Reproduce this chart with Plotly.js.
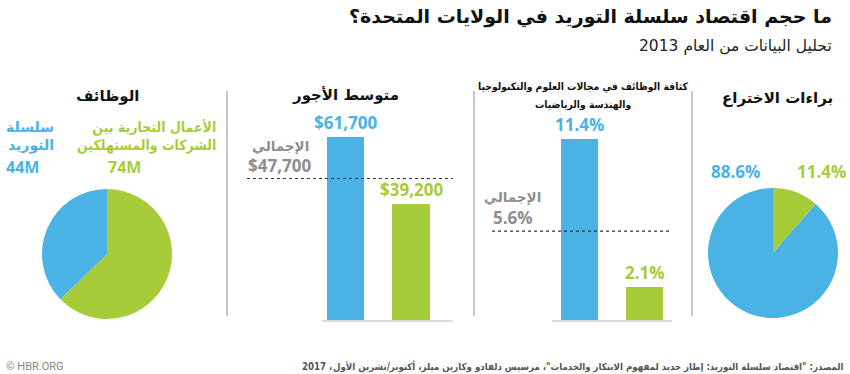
<!DOCTYPE html>
<html><head><meta charset="utf-8">
<script src="https://cdn.plot.ly/plotly-3.0.1.min.js"></script>
<style>html,body{margin:0;padding:0;background:#fff;}#chart{width:850px;height:374px;}</style>
</head><body><div id="chart"></div>
<script>
// ---- data ----
const jobsLabels = ['الأعمال التجارية بين الشركات والمستهلكين', 'سلسلة التوريد'];
const jobsValues = [74, 44];
const wageCats = ['سلسلة التوريد', 'الأعمال التجارية'];
const wageValues = [61700, 39200];
const wageTotal = 47700;
const stemCats = ['سلسلة التوريد', 'الأعمال التجارية'];
const stemValues = [11.4, 2.1];
const stemTotal = 5.6;
const patentLabels = ['الأعمال التجارية', 'سلسلة التوريد'];
const patentValues = [11.4, 88.6];
const totalLabel = 'الإجمالي';
const sourceText = 'المصدر: "اقتصاد سلسلة التوريد: إطار جديد لمفهوم الابتكار والخدمات"، مرسيس دلفادو وكارين ميلز، أكتوبر/تشرين الأول';
const sourceYear = '2017';

const W = 850, H = 374;
const BLUE = '#4bb2e6', GREEN = '#a7cc3a', GRAY = '#8e8e8e';
const AR = 'DejaVu Sans, sans-serif';
const ARC = 'DejaVu Sans Condensed, DejaVu Sans, sans-serif';
const NUM = 'Open Sans, sans-serif';
const px = x => x / W;
const py = y => 1 - y / H;

const traces = [
  { type: 'pie', values: jobsValues, labels: jobsLabels, sort: false, direction: 'clockwise', rotation: 0,
    marker: { colors: [GREEN, BLUE], line: { width: 0 } }, textinfo: 'none', hoverinfo: 'skip',
    domain: { x: [px(42), px(172)], y: [py(319), py(189)] }, showlegend: false },
  { type: 'bar', x: [0, 1], y: wageValues, width: 0.57, marker: { color: [BLUE, GREEN] },
    xaxis: 'x', yaxis: 'y', hoverinfo: 'skip', showlegend: false },
  { type: 'bar', x: [0, 1], y: stemValues, width: 0.57, marker: { color: [BLUE, GREEN] },
    xaxis: 'x2', yaxis: 'y2', hoverinfo: 'skip', showlegend: false },
  { type: 'pie', values: patentValues, labels: patentLabels, sort: false, direction: 'clockwise', rotation: 0,
    marker: { colors: [GREEN, BLUE], line: { width: 0 } }, textinfo: 'none', hoverinfo: 'skip',
    domain: { x: [px(708), px(838)], y: [py(318), py(188)] }, showlegend: false }
];

const hidden = { showgrid: false, zeroline: false, showticklabels: false, ticks: '', fixedrange: true };
const fmtMoney = v => '$' + v.toLocaleString('en-US');
const fmtPct = v => v.toFixed(1) + '%';

function ann(text, x, y, size, color, xanchor, opts) {
  return Object.assign({ text: text, x: px(x), y: py(y), xref: 'paper', yref: 'paper', xanchor: xanchor || 'center',
    yanchor: 'middle', showarrow: false, font: { family: AR, size: size, color: color } }, opts || {});
}

// measure footer text width so the year can sit to its left
const srcSize = 9.6;
const cv = document.createElement('canvas').getContext('2d');
cv.font = 'bold ' + srcSize + 'px "DejaVu Sans Condensed", "DejaVu Sans", sans-serif';
const srcWidth = cv.measureText(sourceText).width;

const annotations = [
  // title
  ann('<b>ما حجم اقتصاد سلسلة التوريد في الولايات المتحدة؟</b>', 834, 17, 19, '#111', 'right'),
  ann('تحليل البيانات من العام 2013', 834, 46, 15.5, '#222', 'right'),
  // panel titles
  ann('<b>الوظائف</b>', 108, 96, 15, '#111'),
  ann('<b>متوسط الأجور</b>', 345, 95, 15, '#111'),
  ann('<b>كثافة الوظائف في مجالات العلوم والتكنولوجيا</b>', 583, 86, 10.3, '#111', 'center',
    { font: { family: ARC, size: 10.3, color: '#111' } }),
  ann('<b>والهندسة والرياضيات</b>', 583, 104, 10.3, '#111', 'center',
    { font: { family: ARC, size: 10.3, color: '#111' } }),
  ann('<b>براءات الاختراع</b>', 777, 98, 15, '#111'),
  // pie 1 labels
  ann('<b>' + jobsLabels[1].split(' ')[0] + '<br>' + jobsLabels[1].split(' ')[1] + '</b>', 56, 136, 14, BLUE, 'right', { align: 'right' }),
  ann('<b>' + jobsValues[1] + 'M</b>', 4, 167, 16, BLUE, 'left', { font: { family: NUM, size: 16, color: BLUE } }),
  ann('<b>الأعمال التجارية بين<br>الشركات والمستهلكين</b>', 218, 136, 14, GREEN, 'right',
    { align: 'right', font: { family: ARC, size: 14, color: GREEN } }),
  ann('<b>' + jobsValues[0] + 'M</b>', 124, 167, 16, GREEN, 'center', { font: { family: NUM, size: 16, color: GREEN } }),
  // wages labels
  { text: '<b>' + fmtMoney(wageValues[0]) + '</b>', x: 0, y: wageValues[0], xref: 'x', yref: 'y', yanchor: 'bottom', yshift: 1,
    showarrow: false, font: { family: NUM, size: 17, color: BLUE } },
  { text: '<b>' + fmtMoney(wageValues[1]) + '</b>', x: 1, y: wageValues[1], xref: 'x', yref: 'y', yanchor: 'bottom', yshift: 1,
    showarrow: false, font: { family: NUM, size: 17, color: GREEN } },
  ann('<b>' + totalLabel + '</b>', 311, 146, 13.5, GRAY, 'right'),
  { text: '<b>' + fmtMoney(wageTotal) + '</b>', x: px(246), y: wageTotal, xref: 'paper', yref: 'y', xanchor: 'left', yanchor: 'bottom', yshift: 0,
    showarrow: false, font: { family: NUM, size: 17, color: GRAY } },
  // stem labels
  { text: '<b>' + fmtPct(stemValues[0]) + '</b>', x: 0, y: stemValues[0], xref: 'x2', yref: 'y2', yanchor: 'bottom', yshift: 1,
    showarrow: false, font: { family: NUM, size: 17, color: BLUE } },
  { text: '<b>' + fmtPct(stemValues[1]) + '</b>', x: 1, y: stemValues[1], xref: 'x2', yref: 'y2', yanchor: 'bottom', yshift: 1,
    showarrow: false, font: { family: NUM, size: 17, color: GREEN } },
  ann('<b>' + totalLabel + '</b>', 543, 197, 13.5, GRAY, 'right'),
  { text: '<b>' + fmtPct(stemTotal) + '</b>', x: px(491), y: stemTotal, xref: 'paper', yref: 'y2', xanchor: 'left', yanchor: 'bottom', yshift: 0,
    showarrow: false, font: { family: NUM, size: 17, color: GRAY } },
  // pie 2 labels
  ann('<b>' + fmtPct(patentValues[1]) + '</b>', 735, 171, 17, BLUE, 'center', { font: { family: NUM, size: 17, color: BLUE } }),
  ann('<b>' + fmtPct(patentValues[0]) + '</b>', 821, 171, 17, GREEN, 'center', { font: { family: NUM, size: 17, color: GREEN } }),
  // footer
  ann('© HBR.ORG', 4, 366, 11, '#888', 'left', { font: { family: 'Roboto, sans-serif', size: 11, color: '#888' } }),
  ann('<b>' + sourceText + '</b>', 845, 366, srcSize, '#555', 'right', { font: { family: ARC, size: srcSize, color: '#555' } }),
  ann('<b>' + sourceYear + ' ،</b>', 845 - srcWidth - 1, 366, srcSize, '#555', 'right', { font: { family: ARC, size: srcSize, color: '#555' } })
];

const shapes = [
  { type: 'line', xref: 'paper', yref: 'paper', x0: px(227), x1: px(227), y0: py(91), y1: py(316), line: { color: '#b5b5b5', width: 1.5 } },
  { type: 'line', xref: 'paper', yref: 'paper', x0: px(474), x1: px(474), y0: py(91), y1: py(316), line: { color: '#b5b5b5', width: 1.5 } },
  { type: 'line', xref: 'paper', yref: 'paper', x0: px(692), x1: px(692), y0: py(91), y1: py(316), line: { color: '#b5b5b5', width: 1.5 } },
  { type: 'line', xref: 'paper', yref: 'y', x0: px(247), x1: px(453), y0: wageTotal, y1: wageTotal, line: { color: '#333', width: 1.2, dash: 'dot' } },
  { type: 'line', xref: 'paper', yref: 'y2', x0: px(492), x1: px(669), y0: stemTotal, y1: stemTotal, line: { color: '#333', width: 1.2, dash: 'dot' } }
];

const layout = {
  width: W, height: H, margin: { l: 0, r: 0, t: 0, b: 0 },
  paper_bgcolor: '#fff', plot_bgcolor: 'rgba(0,0,0,0)', showlegend: false, bargap: 0,
  xaxis: Object.assign({ domain: [px(322), px(453)], range: [-0.359, 1.641], showline: true, linecolor: '#dcdcdc', linewidth: 1.5 }, hidden),
  yaxis: Object.assign({ domain: [py(320), py(130)], range: [0, 64060], showline: false }, hidden),
  xaxis2: Object.assign({ domain: [px(552), px(672)], range: [-0.423, 1.423], showline: true, linecolor: '#dcdcdc', linewidth: 1.5, anchor: 'y2' }, hidden),
  yaxis2: Object.assign({ domain: [py(320), py(130)], range: [0, 11.97], showline: false, anchor: 'x2' }, hidden),
  annotations: annotations, shapes: shapes
};

Plotly.newPlot('chart', traces, layout, { displayModeBar: false, staticPlot: true });
</script></body></html>
